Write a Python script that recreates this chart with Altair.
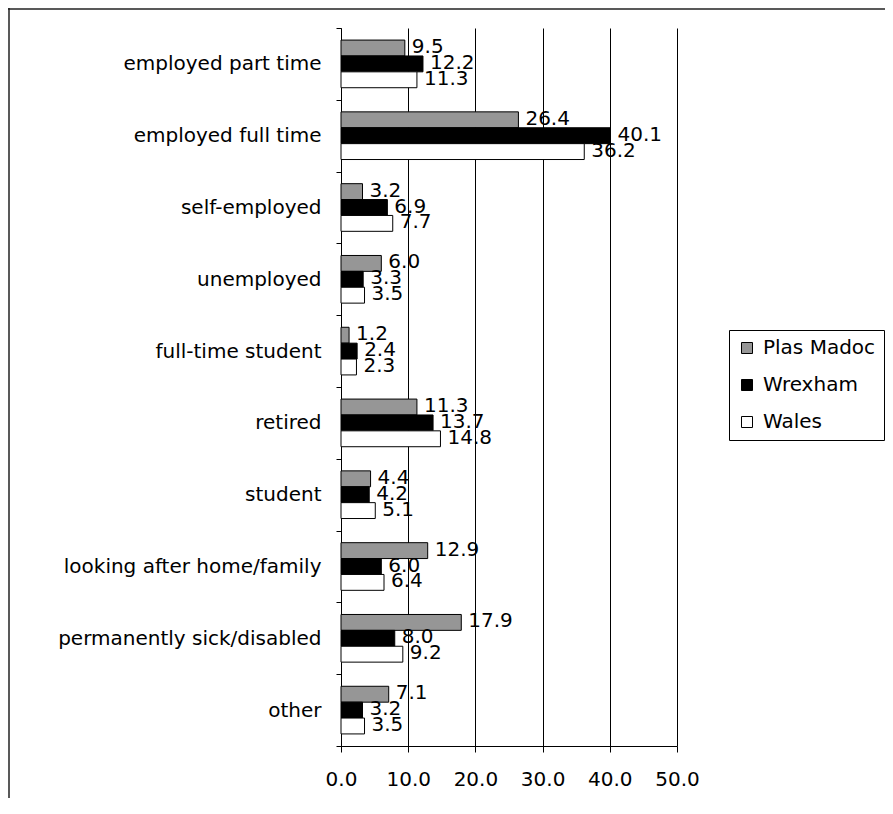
import altair as alt
import pandas as pd

categories = [
    "employed part time",
    "employed full time",
    "self-employed",
    "unemployed",
    "full-time student",
    "retired",
    "student",
    "looking after home/family",
    "permanently sick/disabled",
    "other",
]
series = ["Plas Madoc", "Wrexham", "Wales"]
plas_madoc = [9.5, 26.4, 3.2, 6.0, 1.2, 11.3, 4.4, 12.9, 17.9, 7.1]
wrexham = [12.2, 40.1, 6.9, 3.3, 2.4, 13.7, 4.2, 6.0, 8.0, 3.2]
wales = [11.3, 36.2, 7.7, 3.5, 2.3, 14.8, 5.1, 6.4, 9.2, 3.5]
colors = ["#969696", "#000000", "#ffffff"]
x_ticks = [0, 10, 20, 30, 40, 50]

rows = []
for s, vals in zip(series, [plas_madoc, wrexham, wales]):
    for c, v in zip(categories, vals):
        rows.append({"category": c, "series": s, "value": v})
df = pd.DataFrame(rows)

FONT = "DejaVu Sans"
FS = 20

y_enc = alt.Y(
    "category:N",
    sort=categories,
    scale=alt.Scale(paddingInner=0, paddingOuter=0),
    axis=alt.Axis(
        title=None,
        tickBand="extent",
        labelFont=FONT,
        labelFontSize=FS,
        labelColor="black",
        labelPadding=15,
        tickSize=5,
        tickColor="black",
        domainColor="black",
        labelLimit=400,
    ),
)
y_off = alt.YOffset(
    "series:N", sort=series, scale=alt.Scale(paddingInner=0, paddingOuter=0.76)
)
x_enc = alt.X(
    "value:Q",
    scale=alt.Scale(domain=[0, 50], nice=False),
    axis=alt.Axis(
        title=None,
        values=x_ticks,
        format=".1f",
        grid=True,
        gridColor="black",
        gridOpacity=1,
        tickColor="black",
        tickSize=6,
        domainColor="black",
        labelFont=FONT,
        labelFontSize=FS,
        labelColor="black",
        labelPadding=17,
        labelFlush=False,
        labelOverlap=False,
    ),
)

bars = alt.Chart(df).mark_bar(stroke="black", strokeWidth=1).encode(
    x=x_enc,
    y=y_enc,
    yOffset=y_off,
    color=alt.Color(
        "series:N",
        sort=series,
        scale=alt.Scale(domain=series, range=colors),
        legend=alt.Legend(
            title=None,
            orient="none",
            legendX=388,
            legendY=302,
            padding=8,
            strokeColor="black",
            fillColor="white",
            symbolType="square",
            symbolSize=121,
            symbolStrokeColor="black",
            symbolStrokeWidth=1,
            labelFont=FONT,
            labelFontSize=FS,
            labelColor="black",
            rowPadding=17,
            labelOffset=6,
        ),
    ),
)

labels = alt.Chart(df).mark_text(
    align="left", baseline="middle", dx=7, dy=-1, font=FONT, fontSize=FS, color="black"
).encode(
    x=x_enc,
    y=y_enc,
    yOffset=y_off,
    text=alt.Text("value:Q", format=".1f"),
)

frame_df = pd.DataFrame({"k": [0]})
top_line = alt.Chart(frame_df).mark_rule(color="#222222", strokeWidth=1.5).encode(
    x=alt.value(-333), x2=alt.value(544), y=alt.value(-19)
)
left_line = alt.Chart(frame_df).mark_rule(color="#222222", strokeWidth=1.5).encode(
    x=alt.value(-332), y=alt.value(-20), y2=alt.value(770)
)

chart = (
    alt.layer(bars, labels, top_line, left_line)
    .properties(
        width=336,
        height=718,
        padding={"left": 333, "top": 20, "right": 208, "bottom": 52},
        autosize=alt.AutoSizeParams(type="none"),
    )
    .configure_view(stroke=None)
)

chart.save("out.html", embed_options={"renderer": "svg", "actions": False})
